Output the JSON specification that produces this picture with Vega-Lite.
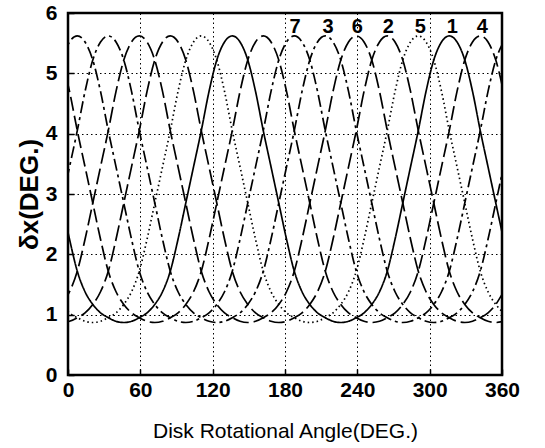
{
  "$schema": "https://vega.github.io/schema/vega-lite/v6.json",
  "width": 434,
  "height": 362,
  "autosize": "none",
  "padding": {"left": 68, "top": 13, "right": 43, "bottom": 73},
  "background": "white",
  "config": {
    "view": {"stroke": "black", "strokeWidth": 2.5},
    "font": "Liberation Sans"
  },
  "datasets": {
    "curves": [
      {"x": -5.16, "c1": 2.85, "c2": 0.87, "c3": 2.85, "c4": 5.22, "c5": 1.17, "c6": 1.17, "c7": 5.22},
      {"x": 1.27, "c1": 2.25, "c2": 0.89, "c3": 3.45, "c4": 4.70, "c5": 1.03, "c6": 1.38, "c7": 5.52},
      {"x": 7.70, "c1": 1.72, "c2": 0.95, "c3": 4.05, "c4": 4.05, "c5": 0.95, "c6": 1.72, "c7": 5.62},
      {"x": 14.13, "c1": 1.38, "c2": 1.03, "c3": 4.70, "c4": 3.45, "c5": 0.89, "c6": 2.25, "c7": 5.52},
      {"x": 20.56, "c1": 1.17, "c2": 1.17, "c3": 5.22, "c4": 2.85, "c5": 0.87, "c6": 2.85, "c7": 5.22},
      {"x": 26.98, "c1": 1.03, "c2": 1.38, "c3": 5.52, "c4": 2.25, "c5": 0.89, "c6": 3.45, "c7": 4.70},
      {"x": 33.41, "c1": 0.95, "c2": 1.72, "c3": 5.62, "c4": 1.72, "c5": 0.95, "c6": 4.05, "c7": 4.05},
      {"x": 39.84, "c1": 0.89, "c2": 2.25, "c3": 5.52, "c4": 1.38, "c5": 1.03, "c6": 4.70, "c7": 3.45},
      {"x": 46.27, "c1": 0.87, "c2": 2.85, "c3": 5.22, "c4": 1.17, "c5": 1.17, "c6": 5.22, "c7": 2.85},
      {"x": 52.70, "c1": 0.89, "c2": 3.45, "c3": 4.70, "c4": 1.03, "c5": 1.38, "c6": 5.52, "c7": 2.25},
      {"x": 59.13, "c1": 0.95, "c2": 4.05, "c3": 4.05, "c4": 0.95, "c5": 1.72, "c6": 5.62, "c7": 1.72},
      {"x": 65.56, "c1": 1.03, "c2": 4.70, "c3": 3.45, "c4": 0.89, "c5": 2.25, "c6": 5.52, "c7": 1.38},
      {"x": 71.98, "c1": 1.17, "c2": 5.22, "c3": 2.85, "c4": 0.87, "c5": 2.85, "c6": 5.22, "c7": 1.17},
      {"x": 78.41, "c1": 1.38, "c2": 5.52, "c3": 2.25, "c4": 0.89, "c5": 3.45, "c6": 4.70, "c7": 1.03},
      {"x": 84.84, "c1": 1.72, "c2": 5.62, "c3": 1.72, "c4": 0.95, "c5": 4.05, "c6": 4.05, "c7": 0.95},
      {"x": 91.27, "c1": 2.25, "c2": 5.52, "c3": 1.38, "c4": 1.03, "c5": 4.70, "c6": 3.45, "c7": 0.89},
      {"x": 97.70, "c1": 2.85, "c2": 5.22, "c3": 1.17, "c4": 1.17, "c5": 5.22, "c6": 2.85, "c7": 0.87},
      {"x": 104.13, "c1": 3.45, "c2": 4.70, "c3": 1.03, "c4": 1.38, "c5": 5.52, "c6": 2.25, "c7": 0.89},
      {"x": 110.56, "c1": 4.05, "c2": 4.05, "c3": 0.95, "c4": 1.72, "c5": 5.62, "c6": 1.72, "c7": 0.95},
      {"x": 116.98, "c1": 4.70, "c2": 3.45, "c3": 0.89, "c4": 2.25, "c5": 5.52, "c6": 1.38, "c7": 1.03},
      {"x": 123.41, "c1": 5.22, "c2": 2.85, "c3": 0.87, "c4": 2.85, "c5": 5.22, "c6": 1.17, "c7": 1.17},
      {"x": 129.84, "c1": 5.52, "c2": 2.25, "c3": 0.89, "c4": 3.45, "c5": 4.70, "c6": 1.03, "c7": 1.38},
      {"x": 136.27, "c1": 5.62, "c2": 1.72, "c3": 0.95, "c4": 4.05, "c5": 4.05, "c6": 0.95, "c7": 1.72},
      {"x": 142.70, "c1": 5.52, "c2": 1.38, "c3": 1.03, "c4": 4.70, "c5": 3.45, "c6": 0.89, "c7": 2.25},
      {"x": 149.13, "c1": 5.22, "c2": 1.17, "c3": 1.17, "c4": 5.22, "c5": 2.85, "c6": 0.87, "c7": 2.85},
      {"x": 155.56, "c1": 4.70, "c2": 1.03, "c3": 1.38, "c4": 5.52, "c5": 2.25, "c6": 0.89, "c7": 3.45},
      {"x": 161.98, "c1": 4.05, "c2": 0.95, "c3": 1.72, "c4": 5.62, "c5": 1.72, "c6": 0.95, "c7": 4.05},
      {"x": 168.41, "c1": 3.45, "c2": 0.89, "c3": 2.25, "c4": 5.52, "c5": 1.38, "c6": 1.03, "c7": 4.70},
      {"x": 174.84, "c1": 2.85, "c2": 0.87, "c3": 2.85, "c4": 5.22, "c5": 1.17, "c6": 1.17, "c7": 5.22},
      {"x": 181.27, "c1": 2.25, "c2": 0.89, "c3": 3.45, "c4": 4.70, "c5": 1.03, "c6": 1.38, "c7": 5.52},
      {"x": 187.70, "c1": 1.72, "c2": 0.95, "c3": 4.05, "c4": 4.05, "c5": 0.95, "c6": 1.72, "c7": 5.62},
      {"x": 194.13, "c1": 1.38, "c2": 1.03, "c3": 4.70, "c4": 3.45, "c5": 0.89, "c6": 2.25, "c7": 5.52},
      {"x": 200.56, "c1": 1.17, "c2": 1.17, "c3": 5.22, "c4": 2.85, "c5": 0.87, "c6": 2.85, "c7": 5.22},
      {"x": 206.98, "c1": 1.03, "c2": 1.38, "c3": 5.52, "c4": 2.25, "c5": 0.89, "c6": 3.45, "c7": 4.70},
      {"x": 213.41, "c1": 0.95, "c2": 1.72, "c3": 5.62, "c4": 1.72, "c5": 0.95, "c6": 4.05, "c7": 4.05},
      {"x": 219.84, "c1": 0.89, "c2": 2.25, "c3": 5.52, "c4": 1.38, "c5": 1.03, "c6": 4.70, "c7": 3.45},
      {"x": 226.27, "c1": 0.87, "c2": 2.85, "c3": 5.22, "c4": 1.17, "c5": 1.17, "c6": 5.22, "c7": 2.85},
      {"x": 232.70, "c1": 0.89, "c2": 3.45, "c3": 4.70, "c4": 1.03, "c5": 1.38, "c6": 5.52, "c7": 2.25},
      {"x": 239.13, "c1": 0.95, "c2": 4.05, "c3": 4.05, "c4": 0.95, "c5": 1.72, "c6": 5.62, "c7": 1.72},
      {"x": 245.56, "c1": 1.03, "c2": 4.70, "c3": 3.45, "c4": 0.89, "c5": 2.25, "c6": 5.52, "c7": 1.38},
      {"x": 251.98, "c1": 1.17, "c2": 5.22, "c3": 2.85, "c4": 0.87, "c5": 2.85, "c6": 5.22, "c7": 1.17},
      {"x": 258.41, "c1": 1.38, "c2": 5.52, "c3": 2.25, "c4": 0.89, "c5": 3.45, "c6": 4.70, "c7": 1.03},
      {"x": 264.84, "c1": 1.72, "c2": 5.62, "c3": 1.72, "c4": 0.95, "c5": 4.05, "c6": 4.05, "c7": 0.95},
      {"x": 271.27, "c1": 2.25, "c2": 5.52, "c3": 1.38, "c4": 1.03, "c5": 4.70, "c6": 3.45, "c7": 0.89},
      {"x": 277.70, "c1": 2.85, "c2": 5.22, "c3": 1.17, "c4": 1.17, "c5": 5.22, "c6": 2.85, "c7": 0.87},
      {"x": 284.13, "c1": 3.45, "c2": 4.70, "c3": 1.03, "c4": 1.38, "c5": 5.52, "c6": 2.25, "c7": 0.89},
      {"x": 290.56, "c1": 4.05, "c2": 4.05, "c3": 0.95, "c4": 1.72, "c5": 5.62, "c6": 1.72, "c7": 0.95},
      {"x": 296.98, "c1": 4.70, "c2": 3.45, "c3": 0.89, "c4": 2.25, "c5": 5.52, "c6": 1.38, "c7": 1.03},
      {"x": 303.41, "c1": 5.22, "c2": 2.85, "c3": 0.87, "c4": 2.85, "c5": 5.22, "c6": 1.17, "c7": 1.17},
      {"x": 309.84, "c1": 5.52, "c2": 2.25, "c3": 0.89, "c4": 3.45, "c5": 4.70, "c6": 1.03, "c7": 1.38},
      {"x": 316.27, "c1": 5.62, "c2": 1.72, "c3": 0.95, "c4": 4.05, "c5": 4.05, "c6": 0.95, "c7": 1.72},
      {"x": 322.70, "c1": 5.52, "c2": 1.38, "c3": 1.03, "c4": 4.70, "c5": 3.45, "c6": 0.89, "c7": 2.25},
      {"x": 329.13, "c1": 5.22, "c2": 1.17, "c3": 1.17, "c4": 5.22, "c5": 2.85, "c6": 0.87, "c7": 2.85},
      {"x": 335.56, "c1": 4.70, "c2": 1.03, "c3": 1.38, "c4": 5.52, "c5": 2.25, "c6": 0.89, "c7": 3.45},
      {"x": 341.98, "c1": 4.05, "c2": 0.95, "c3": 1.72, "c4": 5.62, "c5": 1.72, "c6": 0.95, "c7": 4.05},
      {"x": 348.41, "c1": 3.45, "c2": 0.89, "c3": 2.25, "c4": 5.52, "c5": 1.38, "c6": 1.03, "c7": 4.70},
      {"x": 354.84, "c1": 2.85, "c2": 0.87, "c3": 2.85, "c4": 5.22, "c5": 1.17, "c6": 1.17, "c7": 5.22},
      {"x": 361.27, "c1": 2.25, "c2": 0.89, "c3": 3.45, "c4": 4.70, "c5": 1.03, "c6": 1.38, "c7": 5.52}
    ],
    "labels": [
      {"x": 188.4, "dx": 5.77, "label": "7"},
      {"x": 215.8, "dx": 5.77, "label": "3"},
      {"x": 240.0, "dx": 5.77, "label": "6"},
      {"x": 265.7, "dx": 5.77, "label": "2"},
      {"x": 292.3, "dx": 5.77, "label": "5"},
      {"x": 318.8, "dx": 5.77, "label": "1"},
      {"x": 343.7, "dx": 5.77, "label": "4"}
    ]
  },
  "layer": [
    {
      "data": {"name": "curves"},
      "transform": [{"fold": ["c1", "c2", "c3", "c4", "c5", "c6", "c7"], "as": ["curve", "dx"]}],
      "mark": {"type": "line", "interpolate": "monotone", "clip": true, "color": "black", "strokeWidth": 1.7},
      "encoding": {
        "x": {
          "field": "x", "type": "quantitative",
          "scale": {"domain": [0, 360], "nice": false, "zero": false},
          "axis": {
            "values": [0, 60, 120, 180, 240, 300, 360],
            "format": "d",
            "title": "Disk Rotational Angle(DEG.)",
            "titleFontSize": 21, "titleFontWeight": "normal", "titleColor": "black", "titlePadding": 20,
            "labelFontSize": 21, "labelFontWeight": "bold", "labelColor": "black", "labelPadding": 10,
            "labelFlush": false,
            "grid": true, "gridColor": "black", "gridOpacity": 1, "gridWidth": 1, "gridDash": [1.5, 3],
            "domain": false, "ticks": true, "tickSize": -6, "tickColor": "black", "tickWidth": 1.5
          }
        },
        "y": {
          "field": "dx", "type": "quantitative",
          "scale": {"domain": [0, 6], "nice": false},
          "axis": {
            "values": [0, 1, 2, 3, 4, 5, 6],
            "format": "d",
            "title": "δx(DEG.)",
            "titleFontSize": 26, "titleFontWeight": "bold", "titleColor": "black", "titlePadding": 3,
            "labelFontSize": 21, "labelFontWeight": "bold", "labelColor": "black", "labelPadding": 17,
            "labelFlush": false,
            "grid": true, "gridColor": "black", "gridOpacity": 1, "gridWidth": 1, "gridDash": [1.5, 3],
            "domain": false, "ticks": true, "tickSize": -6, "tickColor": "black", "tickWidth": 1.5
          }
        },
        "strokeDash": {
          "field": "curve", "type": "nominal",
          "scale": {
            "domain": ["c1", "c2", "c3", "c4", "c5", "c6", "c7"],
            "range": [[1, 0], [16, 5], [12, 4, 3, 4], [14, 5], [1.5, 3], [16, 5], [12, 4, 3, 4]]
          },
          "legend": null
        }
      }
    },
    {
      "data": {"name": "labels"},
      "mark": {"type": "text", "fontSize": 20, "fontWeight": "bold", "color": "black", "baseline": "middle", "align": "center"},
      "encoding": {
        "x": {"field": "x", "type": "quantitative"},
        "y": {"field": "dx", "type": "quantitative"},
        "text": {"field": "label", "type": "nominal"}
      }
    }
  ]
}
